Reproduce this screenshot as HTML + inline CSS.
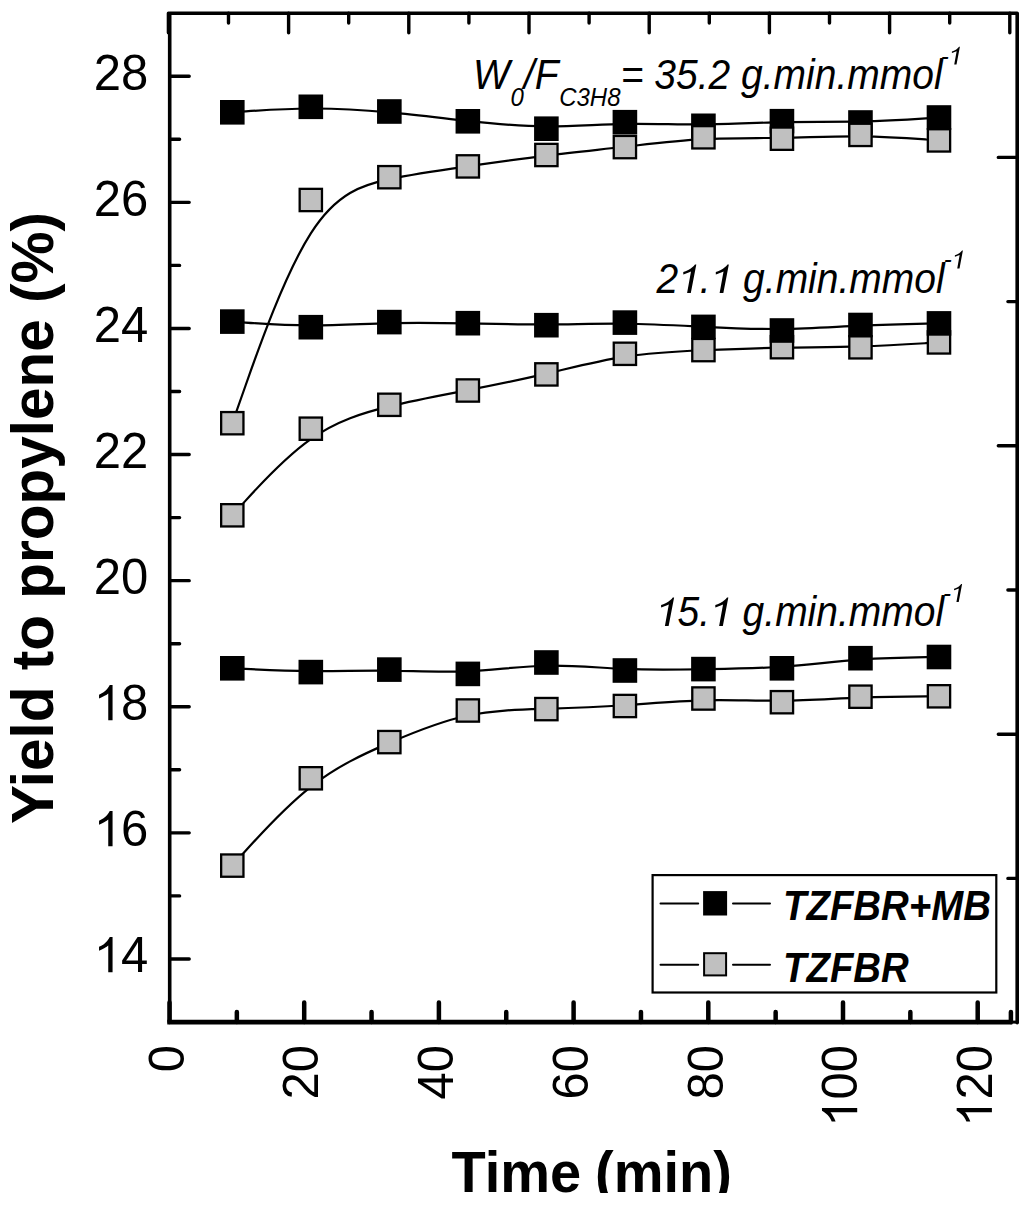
<!DOCTYPE html>
<html><head><meta charset="utf-8"><title>Yield to propylene</title>
<style>
html,body{margin:0;padding:0;background:#fff;width:1024px;height:1205px;overflow:hidden}
svg{display:block}
text{font-family:"Liberation Sans",sans-serif;fill:#000}
</style></head><body>
<svg width="1024" height="1205" viewBox="0 0 1024 1205">
<rect width="1024" height="1205" fill="#fff"/>
<path d="M169.7 1022.1 L169.7 13.3 L1017.2 13.3 L1017.2 1022.7" fill="none" stroke="#000" stroke-width="3.6" stroke-linejoin="round" stroke-linecap="round"/>
<path d="M167.3 1022.1 L1012.3 1022.1" stroke="#000" stroke-width="4.7"/>
<path d="M1011 1022.1 L1017.2 1022.1" stroke="#000" stroke-width="3"/>
<path d="M169.7 958.95L189.2 958.95M169.7 895.90L179.6 895.90M169.7 832.85L189.2 832.85M169.7 769.80L179.6 769.80M169.7 706.75L189.2 706.75M169.7 643.70L179.6 643.70M169.7 580.65L189.2 580.65M169.7 517.60L179.6 517.60M169.7 454.55L189.2 454.55M169.7 391.50L179.6 391.50M169.7 328.45L189.2 328.45M169.7 265.40L179.6 265.40M169.7 202.35L189.2 202.35M169.7 139.30L179.6 139.30M169.7 76.25L189.2 76.25M1017.2 157.40L998.3 157.40M1017.2 301.60L1007.9 301.60M1017.2 445.80L998.3 445.80M1017.2 590.00L1007.9 590.00M1017.2 734.20L998.3 734.20M1017.2 878.40L1007.9 878.40M168.40 13.3L168.40 32.8M228.50 13.3L228.50 23.0M288.60 13.3L288.60 32.8M348.70 13.3L348.70 23.0M408.80 13.3L408.80 32.8M468.90 13.3L468.90 23.0M529.00 13.3L529.00 32.8M589.10 13.3L589.10 23.0M649.20 13.3L649.20 32.8M709.30 13.3L709.30 23.0M769.40 13.3L769.40 32.8M829.50 13.3L829.50 23.0M889.60 13.3L889.60 32.8M949.70 13.3L949.70 23.0M1009.80 13.3L1009.80 32.8" stroke="#000" stroke-width="3.4" stroke-linecap="round"/>
<path d="M169.50 1022.1L169.50 1002.4M236.85 1022.1L236.85 1012.0M304.20 1022.1L304.20 1002.4M371.55 1022.1L371.55 1012.0M438.90 1022.1L438.90 1002.4M506.25 1022.1L506.25 1012.0M573.60 1022.1L573.60 1002.4M640.95 1022.1L640.95 1012.0M708.30 1022.1L708.30 1002.4M775.65 1022.1L775.65 1012.0M843.00 1022.1L843.00 1002.4M910.35 1022.1L910.35 1012.0M977.70 1022.1L977.70 1002.4M1010.9 1022.1L1010.9 1012.0" stroke="#000" stroke-width="4.5" stroke-linecap="round"/>
<path d="M232.30 112.30C232.30 112.30 232.30 112.30 245.39 111.38C258.47 110.47 284.65 108.63 310.82 108.50C336.99 108.37 363.17 109.93 389.34 112.35C415.51 114.77 441.69 118.03 467.86 120.90C494.03 123.77 520.21 126.23 546.38 126.38C572.55 126.53 598.73 124.37 624.90 123.88C651.07 123.40 677.25 124.60 703.42 124.43C729.59 124.27 755.77 122.73 781.94 122.18C808.11 121.63 834.29 122.07 860.46 121.45C886.63 120.83 912.81 119.17 925.89 118.33C938.98 117.50 938.98 117.50 938.98 117.50" fill="none" stroke="#000" stroke-width="2.2" stroke-linejoin="round"/>
<rect x="220.00" y="100.00" width="24.60" height="24.60" fill="#000"/>
<rect x="298.52" y="94.50" width="24.60" height="24.60" fill="#000"/>
<rect x="377.04" y="99.20" width="24.60" height="24.60" fill="#000"/>
<rect x="455.56" y="109.00" width="24.60" height="24.60" fill="#000"/>
<rect x="534.08" y="116.40" width="24.60" height="24.60" fill="#000"/>
<rect x="612.60" y="109.90" width="24.60" height="24.60" fill="#000"/>
<rect x="691.12" y="113.50" width="24.60" height="24.60" fill="#000"/>
<rect x="769.64" y="108.90" width="24.60" height="24.60" fill="#000"/>
<rect x="848.16" y="110.20" width="24.60" height="24.60" fill="#000"/>
<rect x="926.68" y="105.20" width="24.60" height="24.60" fill="#000"/>
<path d="M232.30 423.20C232.30 423.20 232.30 423.20 245.39 386.00C258.47 348.80 284.65 274.40 310.82 233.40C336.99 192.40 363.17 184.80 389.34 179.20C415.51 173.60 441.69 170.00 467.86 166.30C494.03 162.60 520.21 158.80 546.38 155.58C572.55 152.37 598.73 149.73 624.90 146.78C651.07 143.83 677.25 140.57 703.42 139.17C729.59 137.77 755.77 138.23 781.94 137.83C808.11 137.43 834.29 136.17 860.46 136.45C886.63 136.73 912.81 138.57 925.89 139.48C938.98 140.40 938.98 140.40 938.98 140.40" fill="none" stroke="#000" stroke-width="2.2" stroke-linejoin="round"/>
<rect x="221.15" y="412.05" width="22.30" height="22.30" fill="#c0c0c0" stroke="#000" stroke-width="2.3"/>
<rect x="299.67" y="188.85" width="22.30" height="22.30" fill="#c0c0c0" stroke="#000" stroke-width="2.3"/>
<rect x="378.19" y="166.05" width="22.30" height="22.30" fill="#c0c0c0" stroke="#000" stroke-width="2.3"/>
<rect x="456.71" y="155.25" width="22.30" height="22.30" fill="#c0c0c0" stroke="#000" stroke-width="2.3"/>
<rect x="535.23" y="143.85" width="22.30" height="22.30" fill="#c0c0c0" stroke="#000" stroke-width="2.3"/>
<rect x="613.75" y="135.95" width="22.30" height="22.30" fill="#c0c0c0" stroke="#000" stroke-width="2.3"/>
<rect x="692.27" y="126.15" width="22.30" height="22.30" fill="#c0c0c0" stroke="#000" stroke-width="2.3"/>
<rect x="770.79" y="127.55" width="22.30" height="22.30" fill="#c0c0c0" stroke="#000" stroke-width="2.3"/>
<rect x="849.31" y="123.75" width="22.30" height="22.30" fill="#c0c0c0" stroke="#000" stroke-width="2.3"/>
<rect x="927.83" y="129.25" width="22.30" height="22.30" fill="#c0c0c0" stroke="#000" stroke-width="2.3"/>
<path d="M232.30 515.30C232.30 515.30 232.30 515.30 245.39 500.87C258.47 486.43 284.65 457.57 310.82 439.15C336.99 420.73 363.17 412.77 389.34 406.40C415.51 400.03 441.69 395.27 467.86 390.20C494.03 385.13 520.21 379.77 546.38 373.65C572.55 367.53 598.73 360.67 624.90 356.62C651.07 352.57 677.25 351.33 703.42 350.23C729.59 349.13 755.77 348.17 781.94 347.70C808.11 347.23 834.29 347.27 860.46 346.47C886.63 345.67 912.81 344.03 925.89 343.22C938.98 342.40 938.98 342.40 938.98 342.40" fill="none" stroke="#000" stroke-width="2.2" stroke-linejoin="round"/>
<rect x="221.15" y="504.15" width="22.30" height="22.30" fill="#c0c0c0" stroke="#000" stroke-width="2.3"/>
<rect x="299.67" y="417.55" width="22.30" height="22.30" fill="#c0c0c0" stroke="#000" stroke-width="2.3"/>
<rect x="378.19" y="393.65" width="22.30" height="22.30" fill="#c0c0c0" stroke="#000" stroke-width="2.3"/>
<rect x="456.71" y="379.35" width="22.30" height="22.30" fill="#c0c0c0" stroke="#000" stroke-width="2.3"/>
<rect x="535.23" y="363.25" width="22.30" height="22.30" fill="#c0c0c0" stroke="#000" stroke-width="2.3"/>
<rect x="613.75" y="342.65" width="22.30" height="22.30" fill="#c0c0c0" stroke="#000" stroke-width="2.3"/>
<rect x="692.27" y="338.95" width="22.30" height="22.30" fill="#c0c0c0" stroke="#000" stroke-width="2.3"/>
<rect x="770.79" y="336.05" width="22.30" height="22.30" fill="#c0c0c0" stroke="#000" stroke-width="2.3"/>
<rect x="849.31" y="336.15" width="22.30" height="22.30" fill="#c0c0c0" stroke="#000" stroke-width="2.3"/>
<rect x="927.83" y="331.25" width="22.30" height="22.30" fill="#c0c0c0" stroke="#000" stroke-width="2.3"/>
<path d="M232.30 321.60C232.30 321.60 232.30 321.60 245.39 322.53C258.47 323.47 284.65 325.33 310.82 325.42C336.99 325.50 363.17 323.80 389.34 323.13C415.51 322.47 441.69 322.83 467.86 323.35C494.03 323.87 520.21 324.53 546.38 324.43C572.55 324.33 598.73 323.47 624.90 323.75C651.07 324.03 677.25 325.47 703.42 326.78C729.59 328.10 755.77 329.30 781.94 328.98C808.11 328.67 834.29 326.83 860.46 325.65C886.63 324.47 912.81 323.93 925.89 323.67C938.98 323.40 938.98 323.40 938.98 323.40" fill="none" stroke="#000" stroke-width="2.2" stroke-linejoin="round"/>
<rect x="220.00" y="309.30" width="24.60" height="24.60" fill="#000"/>
<rect x="298.52" y="314.90" width="24.60" height="24.60" fill="#000"/>
<rect x="377.04" y="309.80" width="24.60" height="24.60" fill="#000"/>
<rect x="455.56" y="310.90" width="24.60" height="24.60" fill="#000"/>
<rect x="534.08" y="312.90" width="24.60" height="24.60" fill="#000"/>
<rect x="612.60" y="310.30" width="24.60" height="24.60" fill="#000"/>
<rect x="691.12" y="314.60" width="24.60" height="24.60" fill="#000"/>
<rect x="769.64" y="318.20" width="24.60" height="24.60" fill="#000"/>
<rect x="848.16" y="312.70" width="24.60" height="24.60" fill="#000"/>
<rect x="926.68" y="311.10" width="24.60" height="24.60" fill="#000"/>
<path d="M232.30 668.30C232.30 668.30 232.30 668.30 245.39 668.93C258.47 669.57 284.65 670.83 310.82 671.05C336.99 671.27 363.17 670.43 389.34 670.73C415.51 671.03 441.69 672.47 467.86 671.28C494.03 670.10 520.21 666.30 546.38 665.73C572.55 665.17 598.73 667.83 624.90 668.93C651.07 670.03 677.25 669.57 703.42 669.20C729.59 668.83 755.77 668.57 781.94 666.75C808.11 664.93 834.29 661.57 860.46 659.68C886.63 657.80 912.81 657.40 925.89 657.20C938.98 657.00 938.98 657.00 938.98 657.00" fill="none" stroke="#000" stroke-width="2.2" stroke-linejoin="round"/>
<rect x="220.00" y="656.00" width="24.60" height="24.60" fill="#000"/>
<rect x="298.52" y="659.80" width="24.60" height="24.60" fill="#000"/>
<rect x="377.04" y="657.30" width="24.60" height="24.60" fill="#000"/>
<rect x="455.56" y="661.60" width="24.60" height="24.60" fill="#000"/>
<rect x="534.08" y="650.20" width="24.60" height="24.60" fill="#000"/>
<rect x="612.60" y="658.20" width="24.60" height="24.60" fill="#000"/>
<rect x="691.12" y="656.80" width="24.60" height="24.60" fill="#000"/>
<rect x="769.64" y="656.00" width="24.60" height="24.60" fill="#000"/>
<rect x="848.16" y="645.90" width="24.60" height="24.60" fill="#000"/>
<rect x="926.68" y="644.70" width="24.60" height="24.60" fill="#000"/>
<path d="M232.30 865.60C232.30 865.60 232.30 865.60 245.39 851.05C258.47 836.50 284.65 807.40 310.82 786.82C336.99 766.23 363.17 754.17 389.34 742.87C415.51 731.57 441.69 721.03 467.86 715.53C494.03 710.03 520.21 709.57 546.38 708.82C572.55 708.07 598.73 707.03 624.90 705.27C651.07 703.50 677.25 701.00 703.42 700.37C729.59 699.73 755.77 700.97 781.94 700.67C808.11 700.37 834.29 698.53 860.46 697.55C886.63 696.57 912.81 696.43 925.89 696.37C938.98 696.30 938.98 696.30 938.98 696.30" fill="none" stroke="#000" stroke-width="2.2" stroke-linejoin="round"/>
<rect x="221.15" y="854.45" width="22.30" height="22.30" fill="#c0c0c0" stroke="#000" stroke-width="2.3"/>
<rect x="299.67" y="767.15" width="22.30" height="22.30" fill="#c0c0c0" stroke="#000" stroke-width="2.3"/>
<rect x="378.19" y="730.95" width="22.30" height="22.30" fill="#c0c0c0" stroke="#000" stroke-width="2.3"/>
<rect x="456.71" y="699.35" width="22.30" height="22.30" fill="#c0c0c0" stroke="#000" stroke-width="2.3"/>
<rect x="535.23" y="697.95" width="22.30" height="22.30" fill="#c0c0c0" stroke="#000" stroke-width="2.3"/>
<rect x="613.75" y="694.85" width="22.30" height="22.30" fill="#c0c0c0" stroke="#000" stroke-width="2.3"/>
<rect x="692.27" y="687.35" width="22.30" height="22.30" fill="#c0c0c0" stroke="#000" stroke-width="2.3"/>
<rect x="770.79" y="691.05" width="22.30" height="22.30" fill="#c0c0c0" stroke="#000" stroke-width="2.3"/>
<rect x="849.31" y="685.55" width="22.30" height="22.30" fill="#c0c0c0" stroke="#000" stroke-width="2.3"/>
<rect x="927.83" y="685.15" width="22.30" height="22.30" fill="#c0c0c0" stroke="#000" stroke-width="2.3"/>
<path transform="translate(93.70 972.35) scale(49.000 49.980)" d="M0.385 0L0.385 -0.705L0.328 -0.705C0.300 -0.650 0.255 -0.600 0.200 -0.558C0.170 -0.537 0.140 -0.522 0.109 -0.510L0.109 -0.432C0.145 -0.444 0.185 -0.463 0.222 -0.486C0.258 -0.503 0.280 -0.520 0.297 -0.535L0.297 0Z"/>
<text transform="translate(148.2 972.35) scale(1 1.020)" text-anchor="end" font-size="49">4</text>
<path transform="translate(93.70 846.25) scale(49.000 49.980)" d="M0.385 0L0.385 -0.705L0.328 -0.705C0.300 -0.650 0.255 -0.600 0.200 -0.558C0.170 -0.537 0.140 -0.522 0.109 -0.510L0.109 -0.432C0.145 -0.444 0.185 -0.463 0.222 -0.486C0.258 -0.503 0.280 -0.520 0.297 -0.535L0.297 0Z"/>
<text transform="translate(148.2 846.25) scale(1 1.020)" text-anchor="end" font-size="49">6</text>
<path transform="translate(93.70 720.15) scale(49.000 49.980)" d="M0.385 0L0.385 -0.705L0.328 -0.705C0.300 -0.650 0.255 -0.600 0.200 -0.558C0.170 -0.537 0.140 -0.522 0.109 -0.510L0.109 -0.432C0.145 -0.444 0.185 -0.463 0.222 -0.486C0.258 -0.503 0.280 -0.520 0.297 -0.535L0.297 0Z"/>
<text transform="translate(148.2 720.15) scale(1 1.020)" text-anchor="end" font-size="49">8</text>
<text transform="translate(148.2 594.05) scale(1 1.020)" text-anchor="end" font-size="49">20</text>
<text transform="translate(148.2 467.95) scale(1 1.020)" text-anchor="end" font-size="49">22</text>
<text transform="translate(148.2 341.85) scale(1 1.020)" text-anchor="end" font-size="49">24</text>
<text transform="translate(148.2 215.75) scale(1 1.020)" text-anchor="end" font-size="49">26</text>
<text transform="translate(148.2 89.65) scale(1 1.020)" text-anchor="end" font-size="49">28</text>
<g transform="translate(183.70 1045.1) rotate(-90)"><text transform="scale(1 1.02)" text-anchor="end" font-size="49">0</text></g>
<g transform="translate(318.40 1045.1) rotate(-90)"><text transform="scale(1 1.02)" text-anchor="end" font-size="49">20</text></g>
<g transform="translate(453.10 1045.1) rotate(-90)"><text transform="scale(1 1.02)" text-anchor="end" font-size="49">40</text></g>
<g transform="translate(587.80 1045.1) rotate(-90)"><text transform="scale(1 1.02)" text-anchor="end" font-size="49">60</text></g>
<g transform="translate(722.50 1045.1) rotate(-90)"><text transform="scale(1 1.02)" text-anchor="end" font-size="49">80</text></g>
<g transform="translate(857.20 1045.1) rotate(-90)"><path transform="translate(-81.75 0.00) scale(49.000 49.980)" d="M0.385 0L0.385 -0.705L0.328 -0.705C0.300 -0.650 0.255 -0.600 0.200 -0.558C0.170 -0.537 0.140 -0.522 0.109 -0.510L0.109 -0.432C0.145 -0.444 0.185 -0.463 0.222 -0.486C0.258 -0.503 0.280 -0.520 0.297 -0.535L0.297 0Z"/><text transform="scale(1 1.02)" text-anchor="end" font-size="49">00</text></g>
<g transform="translate(991.90 1045.1) rotate(-90)"><path transform="translate(-81.75 0.00) scale(49.000 49.980)" d="M0.385 0L0.385 -0.705L0.328 -0.705C0.300 -0.650 0.255 -0.600 0.200 -0.558C0.170 -0.537 0.140 -0.522 0.109 -0.510L0.109 -0.432C0.145 -0.444 0.185 -0.463 0.222 -0.486C0.258 -0.503 0.280 -0.520 0.297 -0.535L0.297 0Z"/><text transform="scale(1 1.02)" text-anchor="end" font-size="49">20</text></g>
<clipPath id="cb"><rect x="0" y="0" width="1024" height="1193"/></clipPath>
<g clip-path="url(#cb)"><text transform="translate(451.5 1192.3) scale(1 1.04)" font-size="56" font-weight="bold">Time</text><text transform="translate(595.0 1192.3) scale(1 1.04)" font-size="56" font-weight="bold">(min)</text></g>
<text transform="translate(53.3 824) rotate(-90) scale(1 1.02)" font-size="58.5" font-weight="bold">Yield to propylene (%)</text>
<text transform="translate(472.90 88.60) scale(1 1.080)" font-size="39" font-style="italic">W</text>
<text transform="translate(510.50 106.40) scale(1 1.100)" font-size="24" font-style="italic">0</text>
<text transform="translate(523.80 88.60) scale(1 1.080)" font-size="39" font-style="italic">/F</text>
<text transform="translate(559.20 106.40) scale(1 1.100)" font-size="24" font-style="italic">C3H8</text>
<text transform="translate(620.75 88.80) scale(1 1.080)" font-size="39" font-style="italic">= 35.2 g.min.mmol</text>
<path transform="translate(948.69 64.60) scale(24.000 26.400)" d="M0.231 0L0.326 0L0.467 -0.677L0.433 -0.677C0.400 -0.635 0.340 -0.585 0.260 -0.545C0.210 -0.522 0.170 -0.508 0.133 -0.498L0.133 -0.440C0.180 -0.452 0.250 -0.478 0.331 -0.510Z"/><text transform="translate(940.70 64.60) scale(1 1.100)" font-size="24" font-style="italic">-&#8199;</text>
<path transform="translate(678.09 293.00) scale(39.000 42.120)" d="M0.231 0L0.326 0L0.467 -0.677L0.433 -0.677C0.400 -0.635 0.340 -0.585 0.260 -0.545C0.210 -0.522 0.170 -0.508 0.133 -0.498L0.133 -0.440C0.180 -0.452 0.250 -0.478 0.331 -0.510Z"/><path transform="translate(710.62 293.00) scale(39.000 42.120)" d="M0.231 0L0.326 0L0.467 -0.677L0.433 -0.677C0.400 -0.635 0.340 -0.585 0.260 -0.545C0.210 -0.522 0.170 -0.508 0.133 -0.498L0.133 -0.440C0.180 -0.452 0.250 -0.478 0.331 -0.510Z"/><text transform="translate(656.40 293.00) scale(1 1.080)" font-size="39" font-style="italic">2&#8199;.&#8199; g.min.mmol</text>
<path transform="translate(951.69 268.40) scale(24.000 26.400)" d="M0.231 0L0.326 0L0.467 -0.677L0.433 -0.677C0.400 -0.635 0.340 -0.585 0.260 -0.545C0.210 -0.522 0.170 -0.508 0.133 -0.498L0.133 -0.440C0.180 -0.452 0.250 -0.478 0.331 -0.510Z"/><text transform="translate(943.70 268.40) scale(1 1.100)" font-size="24" font-style="italic">-&#8199;</text>
<path transform="translate(655.90 626.00) scale(39.000 42.120)" d="M0.231 0L0.326 0L0.467 -0.677L0.433 -0.677C0.400 -0.635 0.340 -0.585 0.260 -0.545C0.210 -0.522 0.170 -0.508 0.133 -0.498L0.133 -0.440C0.180 -0.452 0.250 -0.478 0.331 -0.510Z"/><path transform="translate(710.12 626.00) scale(39.000 42.120)" d="M0.231 0L0.326 0L0.467 -0.677L0.433 -0.677C0.400 -0.635 0.340 -0.585 0.260 -0.545C0.210 -0.522 0.170 -0.508 0.133 -0.498L0.133 -0.440C0.180 -0.452 0.250 -0.478 0.331 -0.510Z"/><text transform="translate(655.90 626.00) scale(1 1.080)" font-size="39" font-style="italic">&#8199;5.&#8199; g.min.mmol</text>
<path transform="translate(950.89 601.90) scale(24.000 26.400)" d="M0.231 0L0.326 0L0.467 -0.677L0.433 -0.677C0.400 -0.635 0.340 -0.585 0.260 -0.545C0.210 -0.522 0.170 -0.508 0.133 -0.498L0.133 -0.440C0.180 -0.452 0.250 -0.478 0.331 -0.510Z"/><text transform="translate(942.90 601.90) scale(1 1.100)" font-size="24" font-style="italic">-&#8199;</text>
<rect x="652.6" y="875.1" width="343.7" height="117.4" fill="#fff" stroke="#000" stroke-width="2.2"/>
<path d="M660.5 903.6H698.2M733 903.6H770M660.5 964.8H698.2M733 964.8H770" stroke="#000" stroke-width="2" stroke-linecap="round"/>
<rect x="703.1" y="891.1" width="24" height="24.4" fill="#000"/>
<rect x="704.1" y="953.2" width="22" height="22.2" fill="#c0c0c0" stroke="#000" stroke-width="2"/>
<text transform="translate(783 919.9) scale(1 1.115)" font-size="38.4" font-weight="bold" font-style="italic">TZFBR+MB</text>
<text transform="translate(783 981.5) scale(1 1.115)" font-size="38.4" font-weight="bold" font-style="italic">TZFBR</text>
</svg>
</body></html>
